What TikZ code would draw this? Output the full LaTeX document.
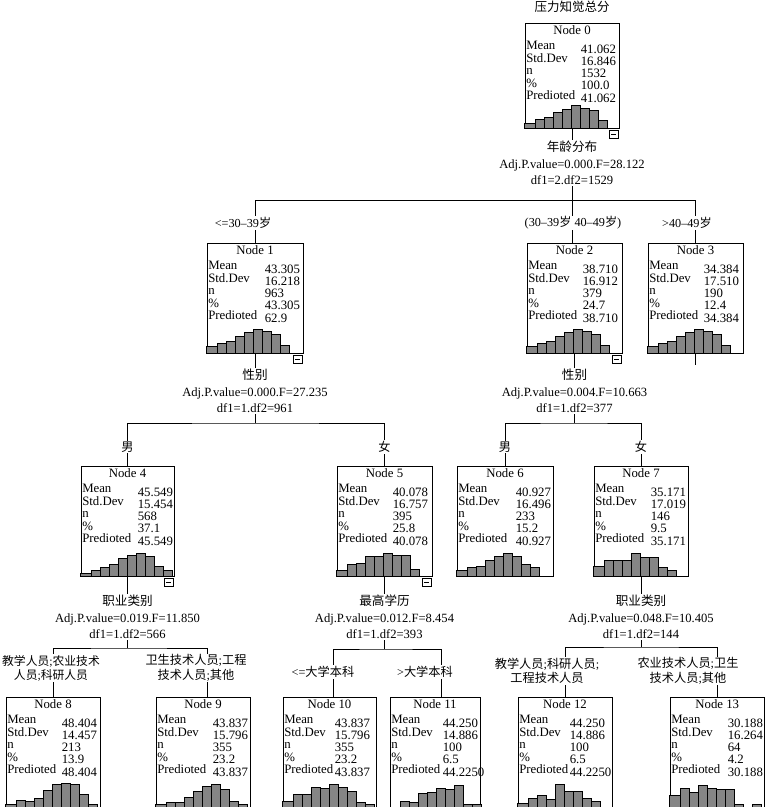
\documentclass[tikz,border=0pt]{standalone}
\usepackage{fontspec}
\setmainfont{Liberation Serif}
\newfontfamily\cjk{Noto Sans CJK SC}
\newcommand\zh[1]{{\cjk #1}}
\usetikzlibrary{calc}
\tikzset{
 box/.style={draw, line width=0.9pt, inner sep=0pt},
 ln/.style={line width=0.9pt},
 bar/.style={draw=black, line width=0.6pt, fill=black!48},
 ttl/.style={anchor=base, inner sep=0pt, font=\fontsize{12.8}{12.8}\selectfont},
 rowl/.style={anchor=base west, inner sep=0pt, font=\fontsize{12.8}{12.8}\selectfont},
 stat/.style={fill=white, inner sep=1pt, align=center, font=\fontsize{12.6}{16.5}\selectfont},
 cond/.style={fill=white, inner sep=1pt, align=center, font=\fontsize{12.2}{14.5}\selectfont},
}
\newcommand\stats[8]{%
  \path (#1.north) ++(0,11.5) node[ttl]{#2};
  \foreach \lab/\val [count=\i from 0] in {Mean/#4,Std.Dev/#5,n/#6,\%/#7,Predioted/#8}{%
    \path (#1.north west) ++(1.5,27+12.6*\i) node[rowl]{\lab};
    \path (#1.north west) ++(#3,30.5+12.3*\i) node[rowl]{\val};
  }}
\newcommand\hist[2]{%
 \foreach \h [count=\i from 0] in {#2}{%
   \ifdim\h pt>0pt
    \pgfmathsetmacro\xa{\i==0 ? 0 : 11+9*(\i-1)}%
    \pgfmathsetmacro\xb{11+9*\i}%
    \draw[bar] ($(#1.south west)+(\xa,0)$) rectangle ($(#1.south west)+(\xb,-\h)$);
   \fi}}
\newcommand\minusbox[1]{%
 \draw[line width=0.7pt, fill=white] ($(#1.south east)+(-10.5,1.5)$) rectangle ($(#1.south east)+(-1,9.5)$);
 \draw[line width=0.8pt] ($(#1.south east)+(-8.3,5.5)$) -- ($(#1.south east)+(-3.2,5.5)$);}
\begin{document}
\begin{tikzpicture}[x=1pt,y=-1pt]
\fill[white] (0,0) rectangle (765,807);
\useasboundingbox (0,0) rectangle (765,807);

% boxes
\node[box, minimum width=94pt, minimum height=105pt] (n0) at (572,75.5) {};
\node[box, minimum width=96pt, minimum height=110pt] (n1) at (255,298) {};
\node[box, minimum width=95pt, minimum height=110pt] (n2) at (574.5,298) {};
\node[box, minimum width=95pt, minimum height=110pt] (n3) at (695.5,298) {};
\node[box, minimum width=93pt, minimum height=110pt] (n4) at (127.5,521) {};
\node[box, minimum width=95pt, minimum height=110pt] (n5) at (384.5,521) {};
\node[box, minimum width=96pt, minimum height=110pt] (n6) at (505,521) {};
\node[box, minimum width=94pt, minimum height=110pt] (n7) at (641,521) {};
\node[box, minimum width=94pt, minimum height=111pt] (n8) at (53,752.5) {};
\node[box, minimum width=94pt, minimum height=111pt] (n9) at (203,752.5) {};
\node[box, minimum width=93pt, minimum height=111pt] (n10) at (329.5,752.5) {};
\node[box, minimum width=90pt, minimum height=111pt] (n11) at (435,752.5) {};
\node[box, minimum width=94pt, minimum height=111pt] (n12) at (565,752.5) {};
\node[box, minimum width=94.5pt, minimum height=111pt] (n13) at (717.25,752.5) {};

% junctions
\coordinate (j0) at (572,200.5);
\coordinate (j1) at (255,423);
\coordinate (j2) at (574.5,423);
\coordinate (j4) at (127.5,648);
\coordinate (j5) at (384.5,649);
\coordinate (j7) at (641,647);

% connectors
\draw[ln] (n0.south) -- (j0);
\draw[ln] (n1.north) |- (j0) -| (n3.north);
\draw[ln] (j0) -- (j0 |- n2.north);
\draw[ln] (n3.south) -- ++(0,12);
\draw[ln] (n1.south) -- (j1);
\draw[ln] (n4.north) |- (j1) -| (n5.north);
\draw[ln] (n2.south) -- (j2);
\draw[ln] (n6.north) |- (j2) -| (n7.north);
\draw[ln] (n4.south) -- (j4);
\draw[ln] (n8.north) |- (j4) -| ([xshift=4pt]n9.north);
\draw[ln] (n5.south) -- (j5);
\draw[ln] ([xshift=3.5pt]n10.north) |- (j5) -| ([xshift=6pt]n11.north);
\draw[ln] (n7.south) -- (j7);
\draw[ln] (n12.north) |- (j7) -| (n13.north);

% node contents
\stats{n0}{Node 0}{56}{41.062}{16.846}{1532}{100.0}{41.062}
\hist{n0}{5,9,11,16,19,23,20,18,8}
\minusbox{n0}
\stats{n1}{Node 1}{58}{43.305}{16.218}{963}{43.305}{62.9}
\hist{n1}{7,10,12,17,21,24,22,19,8}
\minusbox{n1}
\stats{n2}{Node 2}{56}{38.710}{16.912}{379}{24.7}{38.710}
\hist{n2}{7,10,12,17,21,24,22,19,8}
\minusbox{n2}
\stats{n3}{Node 3}{56}{34.384}{17.510}{190}{12.4}{34.384}
\hist{n3}{7,10,12,17,21,24,22,19,8}
\stats{n4}{Node 4}{57}{45.549}{15.454}{568}{37.1}{45.549}
\hist{n4}{3,6,9,12,18,21,23,20,10,6}
\minusbox{n4}
\stats{n5}{Node 5}{56}{40.078}{16.757}{395}{25.8}{40.078}
\hist{n5}{6,12,13,20,20,23,21,21,7}
\minusbox{n5}
\stats{n6}{Node 6}{59}{40.927}{16.496}{233}{15.2}{40.927}
\hist{n6}{6,9,10,16,20,23,20,12,9}
\stats{n7}{Node 7}{57}{35.171}{17.019}{146}{9.5}{35.171}
\hist{n7}{10,16,16,16,23,19,19,9,6}
\stats{n8}{Node 8}{56}{48.404}{14.457}{213}{13.9}{48.404}
\hist{n8}{4,8,7,10,18,24,25,24,14,4}
\stats{n9}{Node 9}{57}{43.837}{15.796}{355}{23.2}{43.837}
\hist{n9}{4,6,6,11,17,22,24,19,7,4}
\stats{n10}{Node 10}{52}{43.837}{15.796}{355}{23.2}{43.837}
\hist{n10}{7,14,14,21,20,24,21,17,6,4}
\stats{n11}{Node 11}{53}{44.250}{14.886}{100}{6.5}{44.2250}
\hist{n11}{0,7,6,15,16,20,19,23,4,4}
\stats{n12}{Node 12}{52}{44.250}{14.886}{100}{6.5}{44.2250}
\hist{n12}{5,10,13,9,24,17,17,10,7}
\stats{n13}{Node 13}{58}{30.188}{16.264}{64}{4.2}{30.188}
\hist{n13}{13,20,16,23,20,19,19,4,0,4}

% title
\node[font=\fontsize{12.5}{12.5}\selectfont\cjk, inner sep=0pt] (title) at (572,7) {压力知觉总分};

% split statistics
\node[stat] (s0) at (572,163) {\zh{年龄分布}\\Adj.P.value=0.000.F=28.122\\df1=2.df2=1529};
\node[stat] (s1) at (255,391) {\zh{性别}\\Adj.P.value=0.000.F=27.235\\df1=1.df2=961};
\node[stat] (s2) at (574.5,391) {\zh{性别}\\Adj.P.value=0.004.F=10.663\\df1=1.df2=377};
\node[stat] (s4) at (127.5,617) {\zh{职业类别}\\Adj.P.value=0.019.F=11.850\\df1=1.df2=566};
\node[stat] (s5) at (384.5,617) {\zh{最高学历}\\Adj.P.value=0.012.F=8.454\\df1=1.df2=393};
\node[stat] (s7) at (641,617) {\zh{职业类别}\\Adj.P.value=0.048.F=10.405\\df1=1.df2=144};

% branch conditions
\node[cond] (c1) at (243,223) {<=30–39\zh{岁}};
\node[cond] (c2) at (573,223) {(30–39\zh{岁} 40–49\zh{岁})};
\node[cond] (c3) at (687,223) {>40–49\zh{岁}};
\node[cond] (c4) at (127.5,447) {\zh{男}};
\node[cond] (c5) at (384.5,447) {\zh{女}};
\node[cond] (c6) at (505,447) {\zh{男}};
\node[cond] (c7) at (641,447) {\zh{女}};
\node[cond, font=\fontsize{11.8}{14}\selectfont] (c8) at (51,668) {\zh{教学人员};\zh{农业技术}\\\zh{人员};\zh{科研人员}};
\node[cond] (c9) at (196,668) {\zh{卫生技术人员};\zh{工程}\\\zh{技术人员};\zh{其他}};
\node[cond] (c10) at (323,672) {<=\zh{大学本科}};
\node[cond] (c11) at (425,672) {>\zh{大学本科}};
\node[cond] (c12) at (547,671) {\zh{教学人员};\zh{科研人员};\\\zh{工程技术人员}};
\node[cond] (c13) at (688,671) {\zh{农业技术人员};\zh{卫生}\\\zh{技术人员};\zh{其他}};
\end{tikzpicture}
\end{document}
